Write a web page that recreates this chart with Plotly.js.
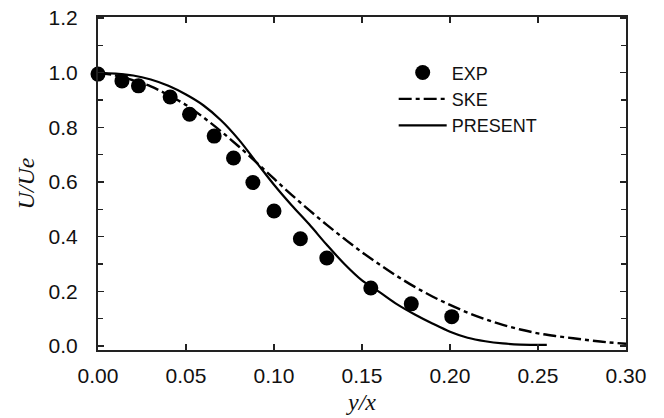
<!DOCTYPE html>
<html>
<head>
<meta charset="utf-8">
<script src="https://cdn.plot.ly/plotly-3.0.1.min.js"></script>
<style>html,body{margin:0;padding:0;background:#fff;}#chart{width:664px;height:418px;}</style>
</head>
<body>
<div id="chart"></div>
<script>
// EXP data points
const expX = [0.000, 0.0136, 0.023, 0.041, 0.052, 0.066, 0.077, 0.088, 0.100, 0.115, 0.130, 0.155, 0.178, 0.201];
const expY = [0.995, 0.970, 0.952, 0.911, 0.848, 0.768, 0.688, 0.598, 0.494, 0.392, 0.322, 0.212, 0.154, 0.107];

// SKE curve
const skeX = [0, 0.01, 0.02, 0.03, 0.04, 0.05, 0.06, 0.07, 0.08, 0.09, 0.10, 0.11, 0.12, 0.13, 0.14, 0.15, 0.16, 0.17, 0.18, 0.19, 0.20, 0.21, 0.22, 0.23, 0.24, 0.25, 0.26, 0.27, 0.28, 0.29, 0.30];
const skeY = [1.0, 0.99, 0.972, 0.95, 0.918, 0.882, 0.836, 0.785, 0.73, 0.672, 0.612, 0.553, 0.497, 0.443, 0.392, 0.343, 0.298, 0.255, 0.216, 0.181, 0.150, 0.122, 0.098, 0.077, 0.060, 0.046, 0.036, 0.028, 0.020, 0.013, 0.008];

// PRESENT curve
const preX = [0, 0.01, 0.02, 0.03, 0.04, 0.05, 0.06, 0.07, 0.08, 0.09, 0.10, 0.11, 0.12, 0.13, 0.14, 0.15, 0.16, 0.17, 0.18, 0.19, 0.20, 0.21, 0.22, 0.23, 0.24, 0.255];
const preY = [1.0, 0.997, 0.99, 0.975, 0.952, 0.92, 0.88, 0.825, 0.755, 0.672, 0.59, 0.515, 0.445, 0.37, 0.30, 0.24, 0.197, 0.152, 0.115, 0.082, 0.052, 0.03, 0.017, 0.009, 0.005, 0.004];

const xTickVals = [0, 0.05, 0.10, 0.15, 0.20, 0.25, 0.30];
const xTickText = ['0.00', '0.05', '0.10', '0.15', '0.20', '0.25', '0.30'];
const yTickVals = [0, 0.2, 0.4, 0.6, 0.8, 1.0, 1.2];
const yTickText = ['0.0', '0.2', '0.4', '0.6', '0.8', '1.0', '1.2'];

const data = [
  {x: expX, y: expY, name: 'EXP', mode: 'markers', type: 'scatter', cliponaxis: false,
   marker: {color: '#000', size: 15}},
  {x: skeX, y: skeY, name: 'SKE', mode: 'lines', type: 'scatter',
   line: {color: '#000', width: 2.4, dash: '13px,4px,4px,4px', shape: 'spline'}},
  {x: preX, y: preY, name: 'PRESENT', mode: 'lines', type: 'scatter',
   line: {color: '#000', width: 2.2, shape: 'spline'}}
];

const axisFont = {family: 'Liberation Sans, Arial, sans-serif', size: 21, color: '#111'};
const layout = {
  width: 664, height: 418,
  margin: {l: 98, r: 38, t: 17, b: 68},
  paper_bgcolor: '#fff', plot_bgcolor: '#fff',
  showlegend: true,
  legend: {x: 0.56, y: 0.888, xanchor: 'left', yanchor: 'top', bgcolor: 'rgba(0,0,0,0)',
           itemwidth: 48, tracegroupgap: 0,
           font: {family: 'Liberation Sans, Arial, sans-serif', size: 18, color: '#111'}},
  xaxis: {
    range: [0, 0.30], tickvals: xTickVals, ticktext: xTickText,
    showgrid: false, zeroline: false, showline: true, linecolor: '#222', linewidth: 2,
    mirror: 'ticks', ticks: 'inside', ticklen: 6, tickwidth: 1.5, tickcolor: '#222',
    tickfont: axisFont, ticklabelstandoff: 6,
    title: {text: '<i>y/x</i>', font: {family: 'Liberation Serif, Times New Roman, serif', size: 24, color: '#111'}, standoff: 7}
  },
  yaxis: {
    range: [-0.015, 1.204], tickvals: yTickVals, ticktext: yTickText,
    showgrid: false, zeroline: false, showline: true, linecolor: '#222', linewidth: 2,
    mirror: 'ticks', ticks: 'inside', ticklen: 6, tickwidth: 1.5, tickcolor: '#222',
    minor: {dtick: 0.1, tick0: 0, ticks: 'inside', ticklen: 5, tickwidth: 1.5, tickcolor: '#222', showgrid: false},
    tickfont: axisFont, ticklabelstandoff: 14,
    title: {text: '<i>U/Ue</i>', font: {family: 'Liberation Serif, Times New Roman, serif', size: 24, color: '#111'}, standoff: 7}
  }
};

Plotly.newPlot('chart', data, layout, {displayModeBar: false, staticPlot: true});
</script>
</body>
</html>
